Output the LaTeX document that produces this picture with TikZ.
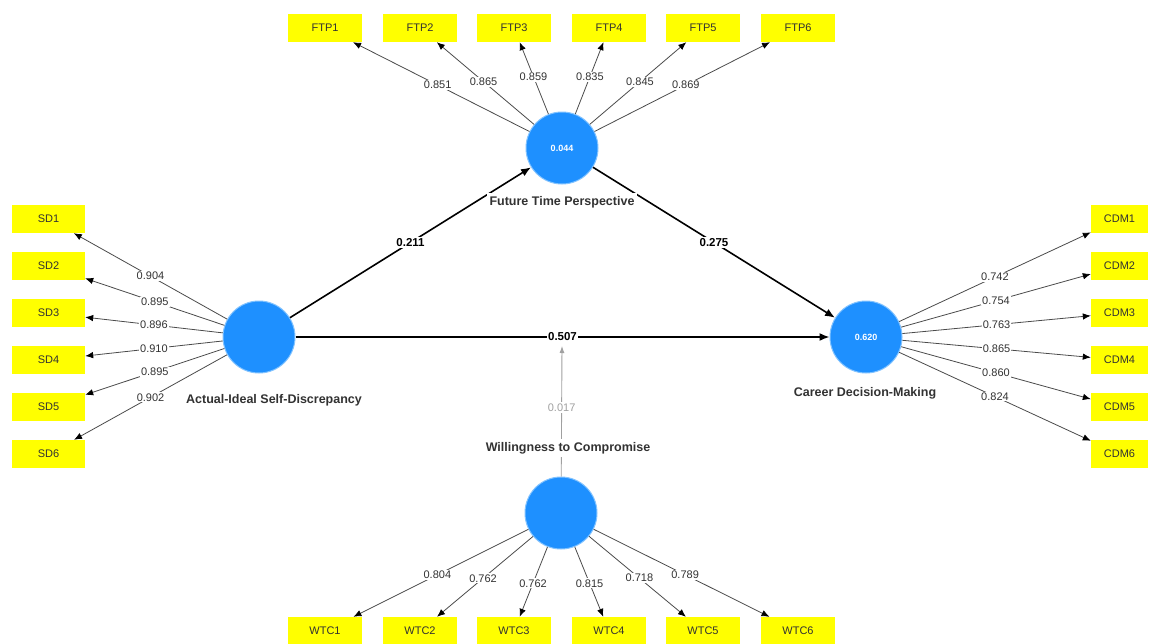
\documentclass[tikz,border=0pt]{standalone}
\usepackage{fontspec}
\setmainfont{Liberation Sans}
\usetikzlibrary{arrows.meta}
\definecolor{lvblue}{RGB}{30,144,255}
\definecolor{lvedge}{RGB}{130,195,255}
\definecolor{indyellow}{RGB}{255,255,0}
\definecolor{loadgray}{RGB}{75,75,75}
\definecolor{modgray}{RGB}{160,160,160}
\definecolor{txtgray}{RGB}{50,50,50}
\begin{document}
\begin{tikzpicture}[x=1pt,y=-1pt,
  lv/.style={circle, fill=lvblue, draw=lvedge, line width=1pt, minimum size=72pt, inner sep=0pt, text=white, font=\fontsize{9}{10}\selectfont\bfseries},
  ind/.style={fill=indyellow, minimum width=74pt, minimum height=28pt, inner sep=0pt, text=txtgray, font=\fontsize{11}{12}\selectfont},
  indn/.style={ind, minimum width=57pt},
  loading/.style={draw=loadgray, line width=0.8pt, -{Latex[color=black,length=8pt,width=6.5pt]}},
  ldlbl/.style={fill=white, inner sep=1pt, text=txtgray, font=\fontsize{11}{12}\selectfont},
  pathar/.style={draw=black, line width=1.6pt, -{Latex[length=10pt,width=8pt]}},
  pclbl/.style={fill=white, inner sep=1.5pt, font=\fontsize{11.5}{12}\selectfont\bfseries},
  modar/.style={draw=modgray, line width=0.9pt, -{Latex[length=7pt,width=5pt]}},
  modlbl/.style={fill=white, inner sep=1.5pt, text=modgray, font=\fontsize{11}{12}\selectfont},
  lvname/.style={fill=white, inner sep=3pt, text=txtgray, font=\fontsize{12.5}{14}\selectfont\bfseries}
]
\useasboundingbox (0,0) rectangle (1156,643);
\fill[white] (0,0) rectangle (1156,643);

% latent variables
\node[lv] (ftp) at (562,148) {0.044};
\node[lv] (asd) at (259,337) {};
\node[lv] (cdm) at (866,337) {0.620};
\node[lv] (wtc) at (561,513) {};
\coordinate (mod) at (562,346);

% FTP indicators
\foreach \i/\x/\v in {1/325/0.851, 2/420/0.865, 3/514/0.859, 4/609/0.835, 5/703/0.845, 6/798/0.869}{
  \node[ind] (ftp\i) at (\x,28) {FTP\i};
  \draw[loading] (ftp) -- node[ldlbl, pos=0.52] {\v} (ftp\i);
}
% WTC indicators
\foreach \i/\x/\v in {1/325/0.804, 2/420/0.762, 3/514/0.762, 4/609/0.815, 5/703/0.718, 6/798/0.789}{
  \node[ind] (wtc\i) at (\x,631) {WTC\i};
  \draw[loading] (wtc) -- node[ldlbl, pos=0.52] {\v} (wtc\i);
}
% SD indicators
\foreach \i/\y/\v in {1/219/0.904, 2/266/0.895, 3/313/0.896, 4/360/0.910, 5/407/0.895, 6/454/0.902}{
  \node[ind, minimum width=73pt] (sd\i) at (48.5,\y) {SD\i};
  \draw[loading] (asd) -- node[ldlbl, pos=0.5] {\v} (sd\i);
}
% CDM indicators
\foreach \i/\y/\v in {1/219/0.742, 2/266/0.754, 3/313/0.763, 4/360/0.865, 5/407/0.860, 6/454/0.824}{
  \node[indn] (cdm\i) at (1119.5,\y) {CDM\i};
  \draw[loading] (cdm) -- node[ldlbl, pos=0.5] {\v} (cdm\i);
}

% structural paths
\draw[modar] (wtc) -- node[modlbl, pos=0.53] {0.017} (mod);
\draw[pathar] (asd) -- node[pclbl, pos=0.5] {0.211} (ftp);
\draw[pathar] (ftp) -- node[pclbl, pos=0.5] {0.275} (cdm);
\draw[pathar] (asd) -- node[pclbl, pos=0.5] {0.507} (cdm);

% construct names
\node[lvname] (ftpname) at (562,202) {Future Time Perspective};
\node[lvname] (asdname) at (274,400) {Actual-Ideal Self-Discrepancy};
\node[lvname] (cdmname) at (865,393) {Career Decision-Making};
\node[lvname] (wtcname) at (568,448) {Willingness to Compromise};
\end{tikzpicture}
\end{document}
